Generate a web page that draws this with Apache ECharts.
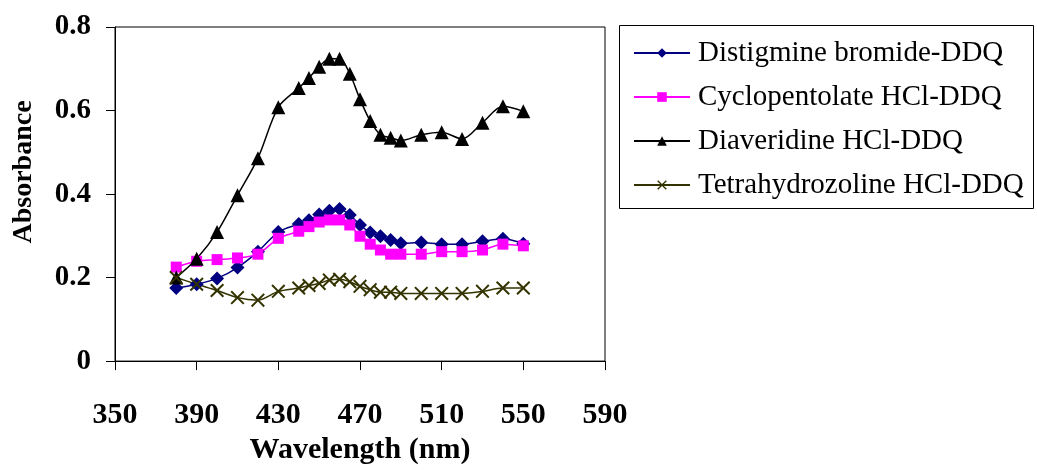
<!DOCTYPE html>
<html>
<head>
<meta charset="utf-8">
<script src="https://cdn.jsdelivr.net/npm/echarts@6/dist/echarts.min.js"></script>
<style>html,body{margin:0;padding:0;background:#fff;}#chart{width:1037px;height:470px;}</style>
</head>
<body>
<div id="chart"></div>
<script>
var wavelengths = [380, 390, 400, 410, 420, 430, 440, 445, 450, 455, 460, 465, 470, 475, 480, 485, 490, 500, 510, 520, 530, 540, 550];
var distigmine = [0.175, 0.184, 0.198, 0.224, 0.262, 0.309, 0.328, 0.337, 0.351, 0.360, 0.364, 0.350, 0.326, 0.308, 0.299, 0.290, 0.282, 0.284, 0.280, 0.280, 0.287, 0.293, 0.281];
var cyclopentolate = [0.225, 0.239, 0.243, 0.247, 0.256, 0.294, 0.311, 0.322, 0.333, 0.338, 0.338, 0.326, 0.299, 0.280, 0.266, 0.256, 0.256, 0.256, 0.262, 0.262, 0.266, 0.280, 0.276];
var diaveridine = [0.200, 0.245, 0.309, 0.397, 0.486, 0.608, 0.654, 0.678, 0.705, 0.724, 0.724, 0.688, 0.627, 0.575, 0.542, 0.535, 0.528, 0.542, 0.548, 0.532, 0.571, 0.610, 0.598];
var tetrahydrozoline = [0.200, 0.184, 0.169, 0.152, 0.146, 0.167, 0.175, 0.181, 0.186, 0.194, 0.196, 0.190, 0.179, 0.171, 0.165, 0.165, 0.162, 0.162, 0.162, 0.162, 0.167, 0.175, 0.175];
var seriesNames = ['Distigmine bromide-DDQ', 'Cyclopentolate HCl-DDQ', 'Diaveridine HCl-DDQ', 'Tetrahydrozoline HCl-DDQ'];
var xTicks = [350, 390, 430, 470, 510, 550, 590];
var yTicks = [0, 0.2, 0.4, 0.6, 0.8];

function pairs(vals) { return wavelengths.map(function (w, i) { return [w, vals[i]]; }); }
var FONT = '"Liberation Serif","Times New Roman",serif';
var crossPath = 'path://M0,1L1,0L5,4L9,0L10,1L6,5L10,9L9,10L5,6L1,10L0,9L4,5Z';

function mkSeries(name, vals, color, symbol, size) {
  return {
    name: name, type: 'line', data: pairs(vals), smooth: 0.3,
    symbol: symbol, symbolSize: size, showSymbol: true,
    lineStyle: { color: color, width: 1.5 },
    itemStyle: { color: color },
    emphasis: { disabled: true },
    animation: false
  };
}

var chart = echarts.init(document.getElementById('chart'), null, { renderer: 'canvas' });
chart.setOption({
  animation: false,
  backgroundColor: '#fff',
  grid: { left: 115, right: 432, top: 27, bottom: 101, show: true, borderColor: '#000', borderWidth: 1, backgroundColor: 'transparent' },
  xAxis: {
    type: 'value', min: xTicks[0], max: xTicks[xTicks.length - 1], interval: 40,
    name: 'Wavelength (nm)', nameLocation: 'middle', nameGap: 73,
    nameTextStyle: { fontFamily: FONT, fontWeight: 'bold', fontSize: 30, color: '#000' },
    axisLine: { show: true, lineStyle: { color: '#000', width: 1 } },
    axisTick: { show: true, inside: false, length: 9, lineStyle: { color: '#000' } },
    axisLabel: { margin: 39, fontFamily: FONT, fontWeight: 'bold', fontSize: 30, color: '#000' },
    splitLine: { show: false }
  },
  yAxis: {
    type: 'value', min: yTicks[0], max: yTicks[yTicks.length - 1], interval: 0.2,
    axisLine: { show: true, lineStyle: { color: '#000', width: 1 } },
    axisTick: { show: true, inside: false, length: 9, lineStyle: { color: '#000' } },
    axisLabel: { margin: 24, fontFamily: FONT, fontWeight: 'bold', fontSize: 29, color: '#000', padding: [6, 0, 0, 0],
      formatter: function (v) { return String(Math.round(v * 10) / 10); } },
    splitLine: { show: false }
  },
  legend: {
    orient: 'vertical', left: 633, top: 38, padding: 0,
    itemWidth: 56, itemHeight: 12, itemGap: 14,
    data: seriesNames,
    textStyle: { fontFamily: FONT, fontSize: 29, color: '#000', lineHeight: 30, padding: [0, 0, 0, 3] },
    selectedMode: false
  },
  graphic: [
    { type: 'rect', shape: { x: 619.5, y: 25.5, width: 414, height: 183 }, style: { fill: 'none', stroke: '#000', lineWidth: 1 }, z: -1 },
    { type: 'text', x: 24, y: 172, rotation: Math.PI / 2, style: { text: 'Absorbance', fontFamily: FONT, fontWeight: 'bold', fontSize: 28, fill: '#000', align: 'center', verticalAlign: 'middle' } }
  ],
  series: [
    mkSeries(seriesNames[0], distigmine, '#000080', 'diamond', 14),
    mkSeries(seriesNames[1], cyclopentolate, '#FF00FF', 'rect', 11),
    mkSeries(seriesNames[2], diaveridine, '#000000', 'triangle', 14),
    mkSeries(seriesNames[3], tetrahydrozoline, '#333300', crossPath, 14)
  ]
});
</script>
</body>
</html>
